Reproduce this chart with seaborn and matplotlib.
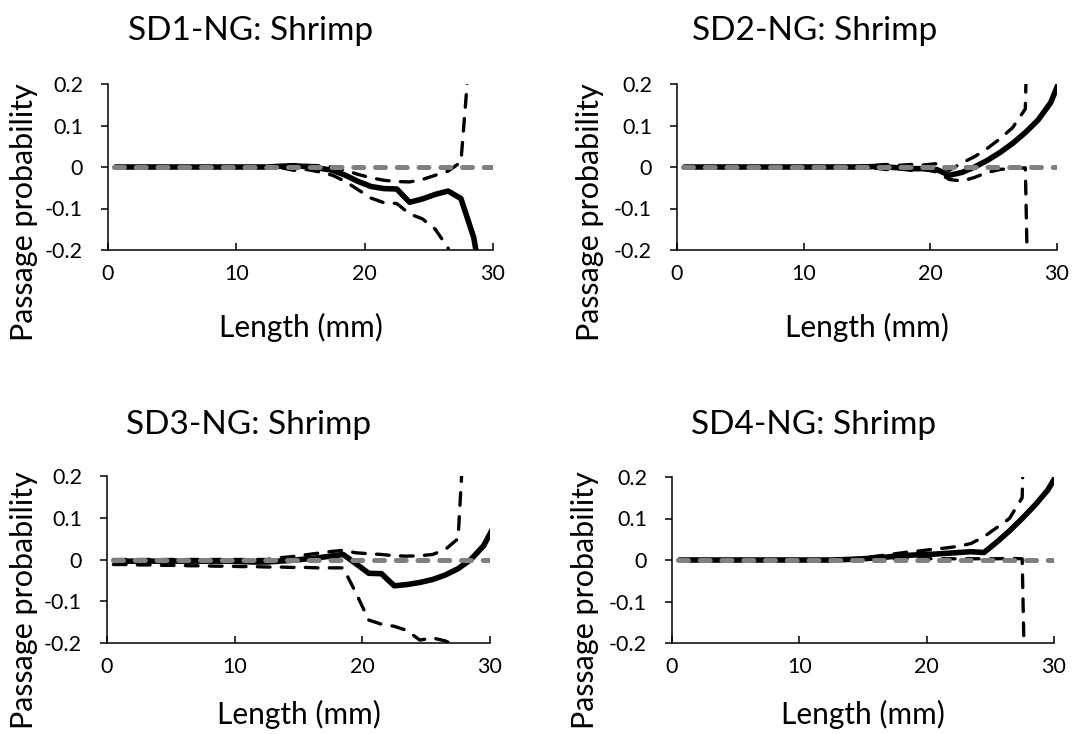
import matplotlib
matplotlib.use("Agg")
import matplotlib.pyplot as plt
import seaborn as sns

# --- Data ---
LENGTH = [0.5, 1.5, 2.5, 3.5, 4.5, 5.5, 6.5, 7.5, 8.5, 9.5,
          10.5, 11.5, 12.5, 13.5, 14.5, 15.5, 16.5, 17.5, 18.5, 19.5,
          20.5, 21.5, 22.5, 23.5, 24.5, 25.5, 26.5, 27.5, 28.5, 29.5, 30.5]

SD1_EST = [0, 0, 0, 0, 0, 0, 0, 0, 0, 0, 0, 0, 0,
           0.002, 0.003, 0.001, -0.003, -0.008, -0.02, -0.035, -0.047, -0.052, -0.053,
           -0.085, -0.077, -0.066, -0.058, -0.076, -0.17, -0.35, -0.6]
SD1_HI = [0, 0, 0, 0, 0, 0, 0, 0, 0, 0, 0, 0, 0,
          0.002, 0.006, 0.004, 0.003, 0.0, -0.008, -0.018, -0.026, -0.032, -0.035,
          -0.036, -0.03, -0.02, -0.01, 0.012, 0.40, 0.8, 1.2]
SD1_LO = [0, 0, 0, 0, 0, 0, 0, 0, 0, 0, 0, 0, 0,
          -0.002, -0.008, -0.006, -0.012, -0.02, -0.035, -0.055, -0.075, -0.086, -0.088,
          -0.113, -0.125, -0.15, -0.195, -0.5, -1.0, -1.5, -2.0]

SD2_EST = [0, 0, 0, 0, 0, 0, 0, 0, 0, 0, 0, 0, 0, 0, 0,
           0.001, 0.0, -0.002, -0.004, -0.004, -0.006, -0.02, -0.013,
           0.0, 0.016, 0.035, 0.057, 0.083, 0.113, 0.155, 0.23]
SD2_HI = [0, 0, 0, 0, 0, 0, 0, 0, 0, 0, 0, 0, 0, 0,
          0.002, 0.004, 0.006, 0.004, 0.006, 0.005, 0.008, -0.008, 0.01,
          0.025, 0.045, 0.068, 0.095, 0.14, 1.5, 2.5, 3.5]
SD2_LO = [0, 0, 0, 0, 0, 0, 0, 0, 0, 0, 0, 0, 0, 0, 0,
          -0.002, -0.006, -0.004, -0.008, -0.006, -0.012, -0.03, -0.034,
          -0.025, -0.013, -0.006, -0.003, -0.002, -1.5, -2.5, -3.5]

SD3_EST = [-0.004, -0.004, -0.004, -0.004, -0.004, -0.004, -0.004, -0.004, -0.004, -0.004,
           -0.005, -0.006, -0.006, -0.004, -0.002, 0.001, 0.004, 0.008, 0.012, -0.01,
           -0.033, -0.034, -0.063, -0.06, -0.055, -0.048, -0.037, -0.022, 0.0, 0.033, 0.09]
SD3_HI = [0, 0, 0, 0, 0, 0, 0, 0, 0, 0, 0, 0, 0,
          0.004, 0.007, 0.011, 0.015, 0.019, 0.022, 0.016, 0.014, 0.012, 0.009,
          0.008, 0.009, 0.012, 0.024, 0.05, 0.6, 1.2, 1.8]
SD3_LO = [-0.012, -0.012, -0.013, -0.013, -0.014, -0.014, -0.015, -0.015, -0.016, -0.016,
          -0.017, -0.017, -0.018, -0.018, -0.019, -0.019, -0.02, -0.02, -0.02, -0.08,
          -0.145, -0.155, -0.16, -0.17, -0.193, -0.188, -0.195, -0.21, -1.0, -1.5, -2.0]

SD4_EST = [0, 0, 0, 0, 0, 0, 0, 0, 0, 0, 0, 0, 0,
           0.001, 0.002, 0.004, 0.006, 0.009, 0.011, 0.013, 0.014, 0.016, 0.018,
           0.02, 0.018, 0.043, 0.07, 0.1, 0.132, 0.168, 0.22]
SD4_HI = [0, 0, 0, 0, 0, 0, 0, 0, 0, 0, 0, 0, 0,
          0.002, 0.004, 0.007, 0.011, 0.015, 0.019, 0.022, 0.026, 0.029, 0.033,
          0.04, 0.056, 0.078, 0.1, 0.15, 1.5, 2.5, 3.5]
SD4_LO = [0, 0, 0, 0, 0, 0, 0, 0, 0, 0, 0, 0, 0, 0,
          0.001, 0.002, 0.002, 0.003, 0.003, 0.003, 0.003, 0.003, 0.003, 0.003,
          0.003, 0.003, 0.004, 0.003, -1.5, -2.5, -3.5]

ZERO = [0.0] * len(LENGTH)

TITLES = ["SD1-NG: Shrimp", "SD2-NG: Shrimp", "SD3-NG: Shrimp", "SD4-NG: Shrimp"]
X_TICKS = [0, 10, 20, 30]
Y_TICKS = [-0.2, -0.1, 0, 0.1, 0.2]
Y_TICK_LABELS = ["-0.2", "-0.1", "0", "0.1", "0.2"]

# --- Layout (pixels in the 1074x734 figure) ---
W, H = 1074, 734
BOXES = [(108, 493, 84, 250), (677, 1057, 84, 250),
         (107, 490, 476, 643), (672, 1054, 477, 643)]   # left, right, top, bottom
TITLE_POS = [(251, 31), (815, 31), (249, 425), (814, 425)]
YLABEL_POS = [(24, 212), (590, 212), (24, 600), (585, 600)]
XLABEL_Y = [327, 327, 714, 714]


def draw_panel(fig, i, est, lo, hi):
    l, r, t, b = BOXES[i]
    ax = fig.add_axes([l / W, 1 - b / H, (r - l) / W, (b - t) / H])

    def fx(px):
        return (px - l) / (r - l)

    def fy(py):
        return (b - py) / (b - t)

    sns.lineplot(x=LENGTH, y=est, ax=ax, color="black", linewidth=4.0,
                 estimator=None, solid_capstyle="butt")
    for bound in (lo, hi):
        sns.lineplot(x=LENGTH, y=bound, ax=ax, color="black", linewidth=2.4,
                     estimator=None, linestyle=(0, (3.8, 3.4)), dash_capstyle="round")
    sns.lineplot(x=LENGTH, y=ZERO, ax=ax, color="#808080", linewidth=3.6,
                 estimator=None, linestyle=(0, (2.0, 2.35)), dash_capstyle="round")

    ax.set_xlim(0, 30)
    ax.set_ylim(-0.2, 0.2)
    ax.set_xticks(X_TICKS)
    ax.set_yticks(Y_TICKS)
    ax.set_yticklabels(Y_TICK_LABELS)
    ax.tick_params(axis="x", direction="in", length=5, width=1.1, pad=10,
                   labelsize=15.5, colors="black")
    ax.tick_params(axis="y", direction="out", length=5, width=1.1, pad=13,
                   labelsize=15.5, colors="black")
    sns.despine(ax=ax)
    for side in ("left", "bottom"):
        ax.spines[side].set_color("black")
        ax.spines[side].set_linewidth(1.1)

    tx, ty = TITLE_POS[i]
    ax.text(fx(tx), fy(ty), TITLES[i], transform=ax.transAxes, ha="center",
            va="center", fontsize=24, color="black")
    ax.set_xlabel("Length (mm)", fontsize=21.5, color="black", va="center")
    ax.xaxis.set_label_coords(0.5, fy(XLABEL_Y[i]))
    yx, yy = YLABEL_POS[i]
    ax.set_ylabel("Passage probability", fontsize=22, color="black", va="center")
    ax.yaxis.set_label_coords(fx(yx), fy(yy))
    return ax


sns.set_theme(style="ticks")
plt.rcParams["font.family"] = ["Lato", "DejaVu Sans"]

fig = plt.figure(figsize=(W / 100, H / 100), dpi=100)
fig.patch.set_facecolor("white")

draw_panel(fig, 0, SD1_EST, SD1_LO, SD1_HI)
draw_panel(fig, 1, SD2_EST, SD2_LO, SD2_HI)
draw_panel(fig, 2, SD3_EST, SD3_LO, SD3_HI)
draw_panel(fig, 3, SD4_EST, SD4_LO, SD4_HI)

fig.savefig("out.png", dpi=100)
plt.close(fig)
